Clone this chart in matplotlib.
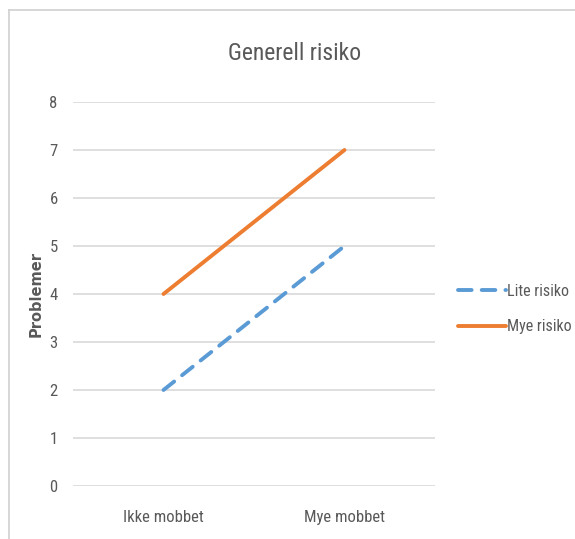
import matplotlib
matplotlib.use("Agg")
import matplotlib.pyplot as plt
from matplotlib.font_manager import fontManager

categories = ["Ikke mobbet", "Mye mobbet"]
lite_risiko = [2, 5]
mye_risiko = [4, 7]
series_names = ["Lite risiko", "Mye risiko"]
yticks = [0, 1, 2, 3, 4, 5, 6, 7, 8]

names = {f.name for f in fontManager.ttflist}
cands = ["Liberation Sans Narrow", "Roboto Condensed", "Open Sans Condensed",
         "Noto Sans Condensed", "DejaVu Sans Condensed", "Lato"]
main = next(c for c in cands if c in names)
plt.rcParams['font.family'] = [main, "DejaVu Sans"]

W, H = 575, 539
fig = plt.figure(figsize=(W / 100, H / 100), dpi=100)
ax = fig.add_axes([73 / W, 1 - 486 / H, (435 - 73) / W, (486 - 102) / H])

x = list(range(len(categories)))
ax.plot(x, lite_risiko, color="#5B9BD5", lw=2.8, dashes=(3.5, 2.6),
        solid_capstyle="round", dash_capstyle="round", label=series_names[0])
ax.plot(x, mye_risiko, color="#ED7D31", lw=2.8, solid_capstyle="round",
        label=series_names[1])

ax.set_xlim(-0.5, 1.5)
ax.set_ylim(0, 8)
ax.set_yticks(yticks)
ax.set_xticks(x)
ax.set_xticklabels(categories)
ax.yaxis.grid(True, color="#D9D9D9", lw=1.2)
ax.set_axisbelow(True)
for s in ax.spines.values():
    s.set_visible(False)
ax.tick_params(axis="both", length=0, colors="#595959", labelsize=12)
ax.tick_params(axis="y", pad=11)
ax.tick_params(axis="x", pad=17)
ax.set_ylabel("Problemer", color="#595959", fontsize=10.5, fontweight="bold",
              family=["DejaVu Sans"])
ax.yaxis.set_label_coords((44 - 73) / (435 - 73), 0.5)
fig.text(295 / W, 1 - 53 / H, "Generell risiko", color="#595959", fontsize=17,
         ha="center", va="center")

leg = ax.legend(loc="center left", bbox_to_anchor=(458 / W, 1 - 309 / H),
                bbox_transform=fig.transFigure, frameon=False, fontsize=11.5,
                handlelength=3.0, handletextpad=0.05, labelspacing=1.3,
                labelcolor="#595959", borderaxespad=0, borderpad=0)

# outer chart border (top and left visible)
fig.add_artist(plt.Line2D([9 / W, 1], [1 - 10 / H, 1 - 10 / H], color="#D0D0D0",
                          lw=1.2, transform=fig.transFigure))
fig.add_artist(plt.Line2D([9 / W, 9 / W], [0, 1 - 10 / H], color="#D0D0D0",
                          lw=1.2, transform=fig.transFigure))

fig.savefig("out.png", dpi=100)
